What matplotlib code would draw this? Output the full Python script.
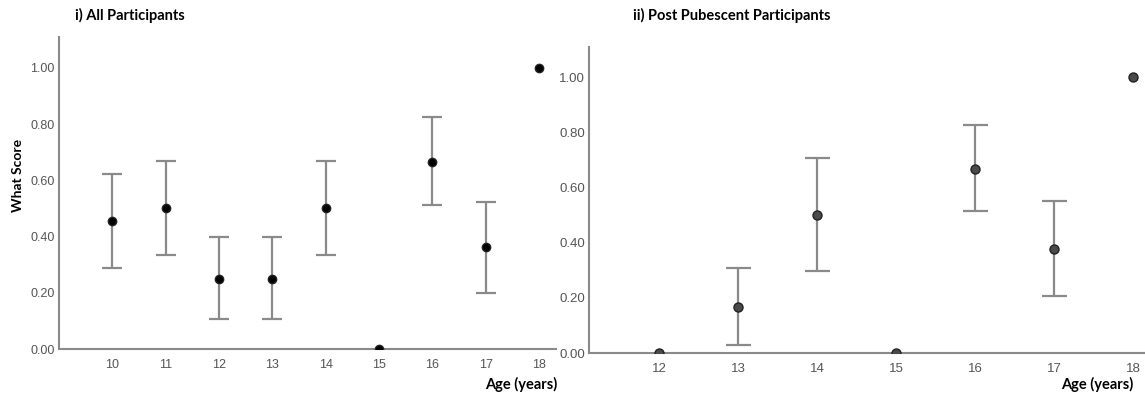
import numpy as np
from matplotlib import pyplot as plt

# i) all participants
ages_all = [10, 11, 12, 13, 14, 15, 16, 17, 18]
mean_all = [0.455, 0.50, 0.25, 0.25, 0.50, 0.0, 0.667, 0.363, 1.0]
low_all = [0.29, 0.335, 0.107, 0.107, 0.335, np.nan, 0.512, 0.201, np.nan]
high_all = [0.622, 0.668, 0.397, 0.397, 0.668, np.nan, 0.826, 0.523, np.nan]

# ii) post pubescent participants
ages_post = [12, 13, 14, 15, 16, 17, 18]
mean_post = [0.0, 0.167, 0.50, 0.0, 0.667, 0.378, 1.0]
low_post = [np.nan, 0.028, 0.298, np.nan, 0.515, 0.207, np.nan]
high_post = [np.nan, 0.31, 0.708, np.nan, 0.828, 0.55, np.nan]

y_ticks = [0.0, 0.2, 0.4, 0.6, 0.8, 1.0]

TICK_FONT = "Liberation Sans"
LABEL_FONT = "Lato"


def plot_panel(ax, ages, means, low, high, dot_color, dot_size, capsize, tick_size):
    """
    draw means with confidence interval whiskers, SPSS style
    """
    ages = np.array(ages, dtype=float)
    means = np.array(means)
    low = np.array(low)
    high = np.array(high)
    has_ci = ~np.isnan(low)

    ax.errorbar(ages[has_ci], means[has_ci],
                yerr=[means[has_ci] - low[has_ci], high[has_ci] - means[has_ci]],
                fmt="none", ecolor="#8a8a8a", elinewidth=1.6, capsize=capsize, capthick=1.6, zorder=2)
    ax.plot(ages, means, "o", color=dot_color, markeredgecolor="#222222", markersize=dot_size, zorder=3)

    ax.set_ylim(0, 1.11)
    ax.set_yticks(y_ticks)
    ax.set_yticklabels([f"{v:.2f}" for v in y_ticks])
    ax.set_xticks(ages)
    ax.set_xticklabels([str(int(a)) for a in ages])
    ax.tick_params(length=0, colors="#555555", labelsize=tick_size)
    ax.tick_params(axis="x", pad=7)
    ax.tick_params(axis="y", pad=3)
    for label in ax.get_xticklabels() + ax.get_yticklabels():
        label.set_fontfamily(TICK_FONT)
    for side in ("top", "right"):
        ax.spines[side].set_visible(False)
    for side in ("left", "bottom"):
        ax.spines[side].set_color("#8a8a8a")
        ax.spines[side].set_linewidth(1.5)


def main():
    fig = plt.figure(figsize=(11.45, 3.98), dpi=100)

    ax1 = fig.add_axes([0.0515, 0.123, 0.4341, 0.784])
    plot_panel(ax1, ages_all, mean_all, low_all, high_all, "black", 6.0, 7, 9)
    ax1.set_xlim(9.0, 18.32)

    ax2 = fig.add_axes([0.5144, 0.113, 0.4856, 0.769])
    plot_panel(ax2, ages_post, mean_post, low_post, high_post, "#4a4a4a", 6.5, 9, 9.5)
    ax2.set_xlim(11.11, 18.15)

    fig.text(0.0655, 0.962, "i) All Participants", fontsize=10.5, fontweight="bold",
             family=LABEL_FONT, va="center", ha="left")
    fig.text(0.553, 0.962, "ii) Post Pubescent Participants", fontsize=10.5, fontweight="bold",
             family=LABEL_FONT, va="center", ha="left")
    fig.text(0.016, 0.56, "What Score", fontsize=10, fontweight="bold", family=LABEL_FONT,
             rotation=90, va="center", ha="center")
    fig.text(0.487, 0.035, "Age (years)", fontsize=10.5, fontweight="bold", family=LABEL_FONT,
             va="center", ha="right")
    fig.text(0.99, 0.033, "Age (years)", fontsize=10.5, fontweight="bold", family=LABEL_FONT,
             va="center", ha="right")

    fig.savefig("out.png", dpi=100, facecolor="white")


if __name__ == "__main__":
    main()
